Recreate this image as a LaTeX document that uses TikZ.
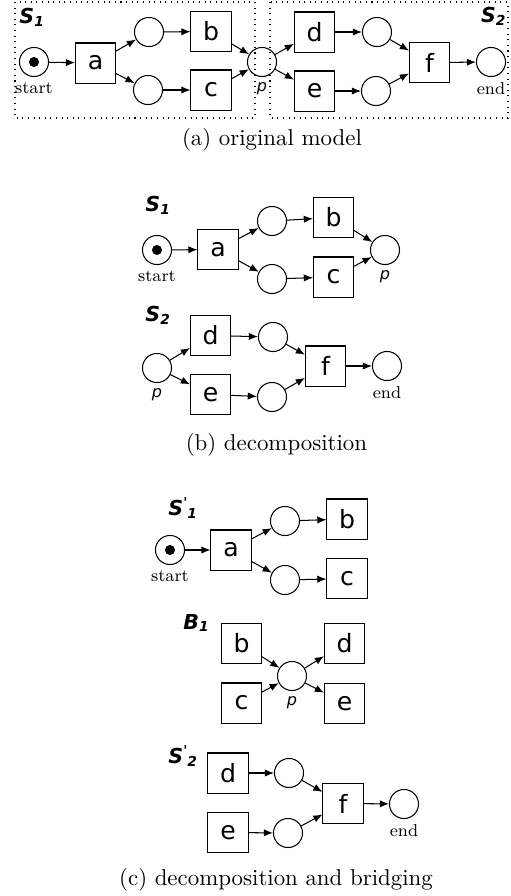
\documentclass[tikz,border=0pt]{standalone}
\usepackage{fontspec}
\usepackage{tikz}
\usetikzlibrary{arrows.meta}
\newfontfamily\dejavu{DejaVu Sans}

% net names like S_1, S'_1
\newcommand{\netname}[2]{{\dejavu\bfseries\itshape #1\textsubscript{#2}}}
\newcommand{\netnamep}[2]{{\dejavu\bfseries\itshape #1\textsuperscript{'}\kern-0.5pt\textsubscript{#2}}}

\begin{document}
\begin{tikzpicture}[x=0.437pt, y=-0.437pt, label distance=-1pt,
    place/.style={circle, draw, line width=0.45pt, minimum size=12.7pt, inner sep=0pt},
    marked/.style={place, path picture={\fill (path picture bounding box.center) circle (2.2pt);}},
    trans/.style={rectangle, draw, line width=0.45pt, minimum size=17.5pt, inner sep=0pt,
      font=\dejavu\fontsize{11}{13}\selectfont},
    flow/.style={-{Latex[length=4pt,width=3.2pt]}, line width=0.45pt},
    netbox/.style={draw, dotted, line width=0.45pt},
    netlbl/.style={inner sep=0pt, font=\fontsize{9}{10}\selectfont},
    endlbl/.style={label={[font=\fontsize{7.5}{9}\selectfont]below:#1}},
    plbl/.style={label={[font=\dejavu\itshape\fontsize{7}{8}\selectfont]below:p}}]

  \useasboundingbox (0,0) rectangle (511,896);

  % ---------------- (a) original model
  \draw[netbox] (15,2) rectangle (255,118);
  \draw[netbox] (270,2) rectangle (508,118);
  \node[netlbl, anchor=west] (lS1A) at (19,17) {\netname{S}{1}};
  \node[netlbl, anchor=east] (lS2A) at (507,16) {\netname{S}{2}};

  \node[marked, endlbl=start] (startA) at (34,62) {};
  \node[trans] (aA) at (95.5,63) {a};
  \node[place] (p1A) at (149,32) {};
  \node[place] (p2A) at (148,90) {};
  \node[trans] (bA) at (211,31.5) {b};
  \node[trans] (cA) at (211,90) {c};
  \node[place, plbl] (pA) at (262,62) {};
  \node[trans] (dA) at (314.5,32) {d};
  \node[trans] (eA) at (314.5,91) {e};
  \node[place] (p3A) at (377,32) {};
  \node[place] (p4A) at (376,91) {};
  \node[trans] (fA) at (429.5,62.5) {f};
  \node[place, endlbl=end] (endA) at (491,62) {};

  \foreach \u/\v in {startA/aA, aA/p1A, aA/p2A, p1A/bA, p2A/cA, bA/pA, cA/pA,
                     pA/dA, pA/eA, dA/p3A, eA/p4A, p3A/fA, p4A/fA, fA/endA}
    \draw[flow] (\u) -- (\v);

  \node (capA) at (272,139.5) {(a) original model};

  % ---------------- (b) decomposition
  \node[netlbl, anchor=west] (lS1B) at (145,205) {\netname{S}{1}};
  \node[marked, endlbl=start] (startB) at (157,250) {};
  \node[trans] (aB) at (218,249.5) {a};
  \node[place] (p1B) at (272,221) {};
  \node[place] (p2B) at (272,279) {};
  \node[trans] (bB) at (333.5,217.5) {b};
  \node[trans] (cB) at (333.5,277) {c};
  \node[place, plbl] (pB) at (385,250) {};

  \node[netlbl, anchor=west] (lS2B) at (145,315) {\netname{S}{2}};
  \node[place, plbl] (qB) at (157,368) {};
  \node[trans] (dB) at (210.5,335.5) {d};
  \node[trans] (eB) at (210.5,394.5) {e};
  \node[place] (p3B) at (273,337) {};
  \node[place] (p4B) at (272,397) {};
  \node[trans] (fB) at (325.5,366) {f};
  \node[place, endlbl=end] (endB) at (387,366) {};

  \foreach \u/\v in {startB/aB, aB/p1B, aB/p2B, p1B/bB, p2B/cB, bB/pB, cB/pB,
                     qB/dB, qB/eB, dB/p3B, eB/p4B, p3B/fB, p4B/fB, fB/endB}
    \draw[flow] (\u) -- (\v);

  \node (capB) at (276.5,444.5) {(b) decomposition};

  % ---------------- (c) decomposition and bridging
  \node[netlbl, anchor=west] (lS1C) at (168,508) {\netnamep{S}{1}};
  \node[marked, endlbl=start] (startC) at (170,550) {};
  \node[trans] (aC) at (231,550) {a};
  \node[place] (p1C) at (285,521) {};
  \node[place] (p2C) at (285,580) {};
  \node[trans] (bC) at (347,519) {b};
  \node[trans] (cC) at (347,578.5) {c};

  \node[netlbl, anchor=west] (lB1C) at (183,623) {\netname{B}{1}};
  \node[trans] (bbC) at (241.5,643.5) {b};
  \node[trans] (ccC) at (241.5,703) {c};
  \node[place, plbl] (pC) at (292,676) {};
  \node[trans] (ddC) at (344.5,643.5) {d};
  \node[trans] (eeC) at (344.5,703.5) {e};

  \node[netlbl, anchor=west] (lS2C) at (168,756) {\netnamep{S}{2}};
  \node[trans] (dC) at (228,773) {d};
  \node[trans] (eC) at (228,832.5) {e};
  \node[place] (p3C) at (289,773) {};
  \node[place] (p4C) at (288,833) {};
  \node[trans] (fC) at (343,803.5) {f};
  \node[place, endlbl=end] (endC) at (404,804) {};

  \foreach \u/\v in {startC/aC, aC/p1C, aC/p2C, p1C/bC, p2C/cC,
                     bbC/pC, ccC/pC, pC/ddC, pC/eeC,
                     dC/p3C, eC/p4C, p3C/fC, p4C/fC, fC/endC}
    \draw[flow] (\u) -- (\v);

  \node (capC) at (276,879.5) {(c) decomposition and bridging};
\end{tikzpicture}
\end{document}
